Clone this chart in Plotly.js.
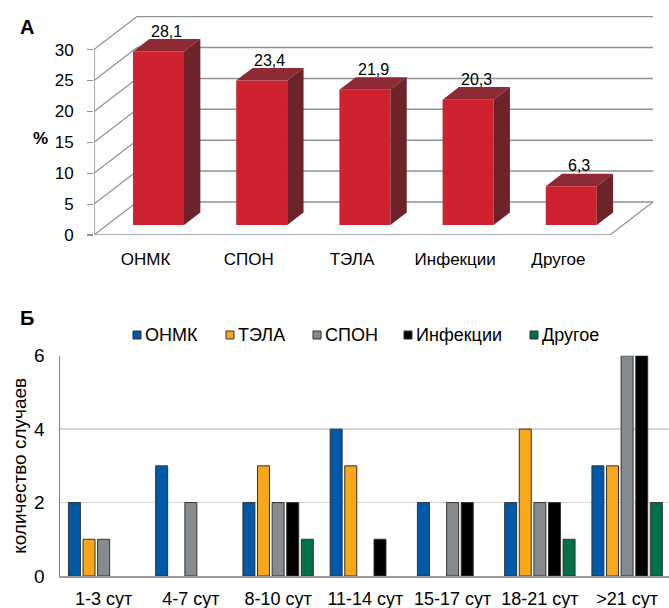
<!DOCTYPE html>
<html>
<head>
<meta charset="utf-8">
<script src="https://cdn.plot.ly/plotly-3.0.1.min.js"></script>
<style>
  html, body { margin: 0; padding: 0; background: #fff; }
  #chart { width: 669px; height: 608px; }
</style>
</head>
<body>
<div id="chart"></div>
<script>
// ---- Panel A: share of causes, % ----
const causes = ['ОНМК', 'СПОН', 'ТЭЛА', 'Инфекции', 'Другое'];
const causeShare = [28.1, 23.4, 21.9, 20.3, 6.3];
const shareTicks = [0, 5, 10, 15, 20, 25, 30];

// ---- Panel B: number of cases by time interval ----
const periods = ['1-3 сут', '4-7 сут', '8-10 сут', '11-14 сут', '15-17 сут', '18-21 сут', '>21 сут'];
const seriesNames = ['ОНМК', 'ТЭЛА', 'СПОН', 'Инфекции', 'Другое'];
const casesOnmk = [2, 3, 2, 4, 2, 2, 3];
const casesTela = [1, 0, 3, 3, 0, 4, 3];
const casesSpon = [1, 2, 2, 0, 2, 2, 6];
const casesInf  = [0, 0, 2, 1, 2, 2, 6];
const casesOther = [0, 0, 1, 0, 0, 1, 2];
const countTicks = [0, 2, 4, 6];

const W = 669, H = 608;
const FONT = 'Liberation Sans, Arial, sans-serif';
const fx = p => p / W;          // pixel -> paper x
const fy = p => 1 - p / H;      // pixel -> paper y

// 3D look for panel A: depth of the box and of each column, in axis units
const DEPTH_X = 0.417, DEPTH_Y = 5.34;
const BAR_OFF = 0.30, BAR_DEPTH = 0.38, BAR_W = 0.494;
const offX = BAR_OFF * DEPTH_X, offY = BAR_OFF * DEPTH_Y;
const dX = BAR_DEPTH * DEPTH_X, dY = BAR_DEPTH * DEPTH_Y;
const nA = causes.length;
const idxA = causes.map((_, i) => i);

const gridGrey = '#8d9297';
const shapes = [];
// back wall grid lines and side wall diagonals
shareTicks.forEach(v => {
  shapes.push({type: 'line', xref: 'x2', yref: 'y2', layer: 'below',
    x0: -0.5 + DEPTH_X, x1: nA - 0.5 + DEPTH_X, y0: v + DEPTH_Y, y1: v + DEPTH_Y,
    line: {color: gridGrey, width: 1.5}});
  shapes.push({type: 'line', xref: 'x2', yref: 'y2', layer: 'below',
    x0: -0.5, x1: -0.5 + DEPTH_X, y0: v, y1: v + DEPTH_Y,
    line: {color: gridGrey, width: 1.2}});
});
// floor front and right edges, vertical axis
shapes.push({type: 'line', xref: 'x2', yref: 'y2', layer: 'below',
  x0: -0.5, x1: nA - 0.5, y0: 0, y1: 0, line: {color: gridGrey, width: 1.5}});
shapes.push({type: 'line', xref: 'x2', yref: 'y2', layer: 'below',
  x0: nA - 0.5, x1: nA - 0.5 + DEPTH_X, y0: 0, y1: DEPTH_Y, line: {color: gridGrey, width: 1.2}});
shapes.push({type: 'line', xref: 'x2', yref: 'y2', layer: 'below',
  x0: -0.5, x1: -0.5, y0: 0, y1: shareTicks[shareTicks.length - 1], line: {color: gridGrey, width: 1.5}});

// top and side faces of each column
causeShare.forEach((v, i) => {
  const x0 = i + offX - BAR_W / 2, x1 = i + offX + BAR_W / 2;
  const b = offY, t = offY + v;
  shapes.push({type: 'path', xref: 'x2', yref: 'y2', layer: 'above',
    path: `M ${x0},${t} L ${x1},${t} L ${x1 + dX},${t + dY} L ${x0 + dX},${t + dY} Z`,
    fillcolor: '#8e2a33', line: {width: 0}});
  shapes.push({type: 'path', xref: 'x2', yref: 'y2', layer: 'above',
    path: `M ${x1},${b} L ${x1},${t} L ${x1 + dX},${t + dY} L ${x1 + dX},${b + dY} Z`,
    fillcolor: '#6c2329', line: {width: 0}});
});

// hand-placed legend for panel B
const colorsB = ['#0059a8', '#f8a61c', '#868b90', '#000000', '#00704a'];
const legendX = [133, 226, 313, 404, 530];
const legendY = 335;
const annotations = [];
seriesNames.forEach((name, k) => {
  shapes.push({type: 'rect', xref: 'paper', yref: 'paper',
    x0: fx(legendX[k]), x1: fx(legendX[k] + 8), y0: fy(legendY + 4), y1: fy(legendY - 4),
    fillcolor: colorsB[k], line: {color: '#333', width: 1}});
  annotations.push({xref: 'paper', yref: 'paper', x: fx(legendX[k] + 10), y: fy(legendY),
    xanchor: 'left', yanchor: 'middle', showarrow: false, text: name,
    font: {family: FONT, size: 18, color: '#000'}});
});

// value labels above the columns
causeShare.forEach((v, i) => {
  annotations.push({xref: 'x2', yref: 'y2', x: i + offX + dX / 2, y: v + offY + dY / 2,
    yshift: 14, showarrow: false, xanchor: 'center', yanchor: 'middle',
    text: v.toFixed(1).replace('.', ','), font: {family: FONT, size: 16, color: '#000'}});
});

// panel letters and the % axis label
annotations.push({xref: 'paper', yref: 'paper', x: fx(27), y: fy(27), showarrow: false,
  xanchor: 'center', yanchor: 'middle', text: '<b>А</b>', font: {family: FONT, size: 20, color: '#000'}});
annotations.push({xref: 'paper', yref: 'paper', x: fx(27), y: fy(318), showarrow: false,
  xanchor: 'center', yanchor: 'middle', text: '<b>Б</b>', font: {family: FONT, size: 20, color: '#000'}});
annotations.push({xref: 'paper', yref: 'paper', x: fx(40), y: fy(138), showarrow: false,
  xanchor: 'center', yanchor: 'middle', text: '<b>%</b>', font: {family: FONT, size: 17, color: '#000'}});

const traces = [
  {type: 'bar', xaxis: 'x2', yaxis: 'y2', x: idxA.map(i => i + offX), y: causeShare,
   base: offY, width: BAR_W, marker: {color: '#d02130', line: {width: 0}},
   hoverinfo: 'skip', showlegend: false}
];
// empty cells (zero cases) are left blank rather than drawn as flat outlines
const seriesB = [casesOnmk, casesTela, casesSpon, casesInf, casesOther];
seriesB.forEach((vals, k) => {
  traces.push({type: 'bar', xaxis: 'x', yaxis: 'y', name: seriesNames[k], x: periods,
    y: vals.map(v => (v === 0 ? null : v)),
    marker: {color: colorsB[k], line: {color: '#333333', width: 1}}, showlegend: false});
});

const topFront0 = 235, topPxPerUnit = 6.18, topTop = 16;
const layout = {
  width: W, height: H,
  margin: {l: 0, r: 0, t: 0, b: 0},
  paper_bgcolor: '#fff', plot_bgcolor: 'rgba(0,0,0,0)',
  showlegend: false,
  barmode: 'group', bargap: 0.163, bargroupgap: 0.18,
  font: {family: FONT, color: '#000'},
  xaxis2: {domain: [fx(94), fx(653)], range: [-0.5, nA - 0.5 + DEPTH_X], anchor: 'y2',
    showgrid: false, zeroline: false, showline: false, ticks: '',
    tickmode: 'array', tickvals: idxA, ticktext: causes,
    tickfont: {family: FONT, size: 17, color: '#000'}, ticklabelstandoff: 12},
  yaxis2: {domain: [fy(topFront0), fy(topTop)], range: [0, (topFront0 - topTop) / topPxPerUnit],
    anchor: 'x2', showgrid: false, zeroline: false, showline: false,
    tickmode: 'array', tickvals: shareTicks, ticks: 'outside', ticklen: 6, tickcolor: gridGrey,
    tickwidth: 1.2, tickfont: {family: FONT, size: 17, color: '#000'}, ticklabelstandoff: 10},
  xaxis: {domain: [fx(60), 1], range: [-0.5, 6.48], anchor: 'y', type: 'category',
    showgrid: false, zeroline: false, showline: true, linecolor: '#9a9a9a', linewidth: 1.5,
    ticks: '', tickfont: {family: FONT, size: 18, color: '#000'}, ticklabelstandoff: 6,
    layer: 'above traces'},
  yaxis: {domain: [fy(576), fy(355.7)], range: [0, 6], anchor: 'x',
    tickmode: 'array', tickvals: countTicks, showgrid: true, gridcolor: '#d6d6d6', gridwidth: 1.5,
    zeroline: false, showline: true, linecolor: '#7f7f7f', linewidth: 1.5, ticks: '',
    tickfont: {family: FONT, size: 19, color: '#000'}, ticklabelstandoff: 10,
    title: {text: 'количество случаев', font: {family: FONT, size: 19, color: '#000'}, standoff: 2}},
  shapes: shapes,
  annotations: annotations
};

Plotly.newPlot('chart', traces, layout, {displayModeBar: false, staticPlot: true});
</script>
</body>
</html>
